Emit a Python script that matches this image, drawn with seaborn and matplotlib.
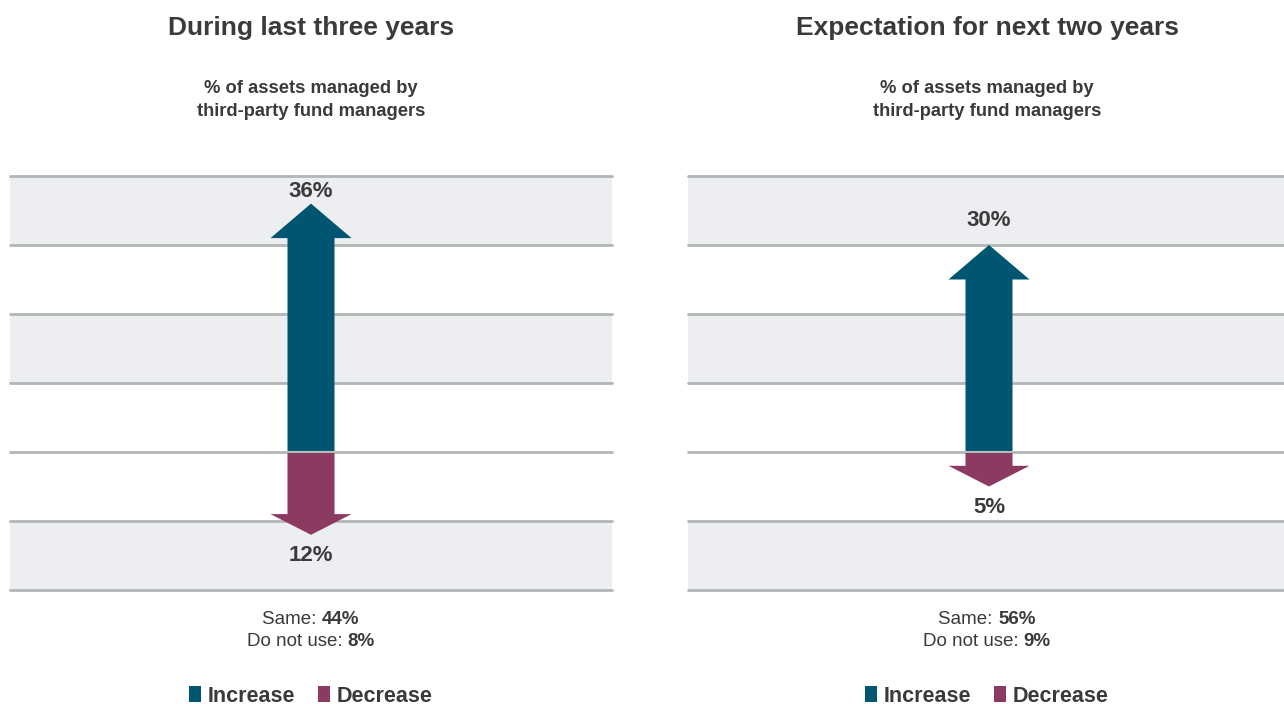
import matplotlib
matplotlib.use("Agg")
import matplotlib.pyplot as plt
from matplotlib.patches import Patch
from matplotlib.offsetbox import TextArea, HPacker, AnnotationBbox
import seaborn as sns

# Survey results: share of respondents per direction of change
panel_titles = ["During last three years", "Expectation for next two years"]
subtitle = "% of assets managed by\nthird-party fund managers"
increase = [36, 30]
decrease = [12, 5]
same = [44, 56]
do_not_use = [8, 9]
series_names = ["Increase", "Decrease"]

INC_COLOR = "#005670"
DEC_COLOR = "#8c3a61"
TEXT = "#3a3a3a"
GRID = "#b2b7b5"
BAND = "#edeef2"

sns.set_theme(style="white")
plt.rcParams["font.family"] = ["Liberation Sans", "DejaVu Sans"]

W, H = 1284, 704
fig = plt.figure(figsize=(W / 100, H / 100), dpi=100)
fig.patch.set_facecolor("white")

def fx(px):
    return px / W

def fy(py):
    return 1 - py / H

panel_boxes = [(10, 602), (688, 602)]
centers = [311, 987]
top_px, bot_px = 176, 590

for i, title in enumerate(panel_titles):
    left, width = panel_boxes[i]
    ax = fig.add_axes([fx(left), fy(bot_px), width / W, (bot_px - top_px) / H])
    ax.set_xlim(0, 1)
    ax.set_ylim(-20, 40)
    ax.set_axis_off()

    # alternating bands and horizontal rules
    for lo, hi in [(30, 40), (10, 20), (-20, -10)]:
        ax.axhspan(lo, hi, color=BAND, lw=0, zorder=0)
    for yv in range(-20, 41, 10):
        ax.axhline(yv, color=GRID, lw=2.0, zorder=1, clip_on=False)

    shaft = 47 / width
    head = 81 / width

    # increase arrow (upwards)
    ax.arrow(0.5, 0.15, 0, increase[i] - 0.15, width=shaft, head_width=head,
             head_length=5.0, length_includes_head=True, color=INC_COLOR,
             lw=0, zorder=3)
    # decrease arrow (downwards)
    ax.arrow(0.5, -0.15, 0, -(decrease[i] - 0.15), width=shaft, head_width=head,
             head_length=3.0, length_includes_head=True, color=DEC_COLOR,
             lw=0, zorder=3)

    ax.text(0.5, min(increase[i] + 3.5, 37.8), f"{increase[i]}%", ha="center",
            va="center", fontsize=16, fontweight="bold", color=TEXT, zorder=4)
    ax.text(0.5, -decrease[i] - 3.0, f"{decrease[i]}%", ha="center",
            va="center", fontsize=16, fontweight="bold", color=TEXT, zorder=4)

    cx = centers[i]
    fig.text(fx(cx), fy(28), title, ha="center", va="center",
             fontsize=19, fontweight="bold", color=TEXT)
    fig.text(fx(cx), fy(100), subtitle, ha="center", va="center",
             fontsize=13.2, fontweight="bold", color=TEXT, linespacing=1.45)

    # footnote lines with mixed weights
    for row_y, lab, val in [(620, "Same: ", same[i]), (641, "Do not use: ", do_not_use[i])]:
        box = HPacker(children=[
            TextArea(lab, textprops=dict(fontsize=13.5, color=TEXT)),
            TextArea(f"{val}%", textprops=dict(fontsize=13.5, color=TEXT,
                                               fontweight="bold")),
        ], sep=0, pad=0, align="baseline")
        ab = AnnotationBbox(box, (fx(cx), fy(row_y)), xycoords="figure fraction",
                            box_alignment=(0.5, 0.5), frameon=False, pad=0)
        fig.add_artist(ab)

    handles = [Patch(facecolor=INC_COLOR, edgecolor="none"),
               Patch(facecolor=DEC_COLOR, edgecolor="none")]
    leg = fig.legend(handles, series_names, loc="center",
                     bbox_to_anchor=(fx(cx), fy(696)), ncol=2, frameon=False,
                     handlelength=0.55, handleheight=0.7, handletextpad=0.33,
                     columnspacing=1.05, borderpad=0,
                     prop=dict(size=15.5, weight="bold"))
    for t in leg.get_texts():
        t.set_color(TEXT)

fig.savefig("out.png", dpi=100, facecolor="white")
